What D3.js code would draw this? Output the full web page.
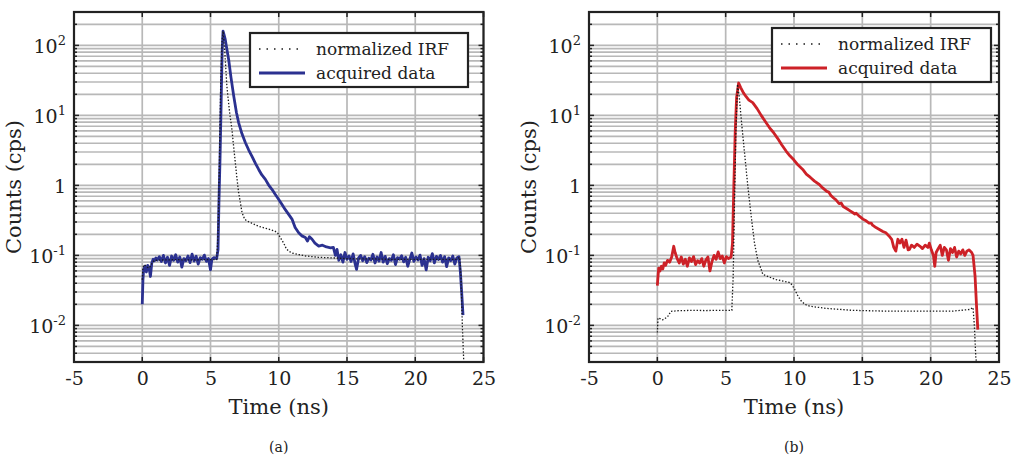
<!DOCTYPE html>
<html>
<head>
<meta charset="utf-8">
<script src="https://cdn.jsdelivr.net/npm/d3@7"></script>
<style>
  body { margin: 0; background: #fff; }
  svg { display: block; }
</style>
</head>
<body>
<svg id="mySVG" width="1012" height="457"></svg>
<script>
// ---- data (time in ns, counts in cps) ----
var xTicks = [-5, 0, 5, 10, 15, 20, 25]
var yTicks = [0.01, 0.1, 1, 10, 100]
var legendLabels = ["normalized IRF", "acquired data"]
var panelLabels = ["(a)", "(b)"]

var irfA = [
  [0.00, 0.045], [0.05, 0.068], [0.15, 0.074], [0.30, 0.070], [0.45, 0.066], [0.60, 0.070],
  [0.75, 0.080], [0.90, 0.085], [1.5, 0.086], [2.5, 0.087], [3.5, 0.086], [4.5, 0.087],
  [5.45, 0.087], [5.55, 0.2], [5.65, 2], [5.75, 30], [5.85, 120], [5.92, 160], [6.05, 80],
  [6.20, 26], [6.40, 11], [6.57, 6.3], [6.70, 3.5], [6.82, 2.1], [6.95, 1.2], [7.06, 0.79],
  [7.20, 0.55], [7.31, 0.41], [7.50, 0.33], [7.67, 0.31], [8.00, 0.29], [8.53, 0.26],
  [9.00, 0.245], [9.50, 0.23], [9.75, 0.22], [9.95, 0.205], [10.15, 0.175], [10.36, 0.15],
  [10.55, 0.125], [10.73, 0.115], [11.00, 0.108], [11.46, 0.103], [12.00, 0.098], [12.90, 0.094],
  [14.0, 0.092], [15.0, 0.090], [16.0, 0.089], [17.0, 0.089], [18.0, 0.088], [19.0, 0.088],
  [20.0, 0.088], [21.0, 0.088], [22.0, 0.088], [23.0, 0.088], [23.25, 0.094], [23.35, 0.05],
  [23.45, 0.01], [23.56, 0.0028]
]

var dataA = [
  [0.00, 0.020], [0.05, 0.045], [0.10, 0.062], [0.20, 0.070], [0.30, 0.058], [0.40, 0.072],
  [0.50, 0.066], [0.60, 0.050], [0.70, 0.078], [0.80, 0.088], [0.90, 0.084], [1.00, 0.092],
  [1.10, 0.086], [1.25, 0.096], [1.40, 0.082], [1.55, 0.100], [1.70, 0.078], [1.85, 0.094],
  [2.00, 0.072], [2.15, 0.098], [2.30, 0.085], [2.45, 0.102], [2.60, 0.080], [2.75, 0.095],
  [2.90, 0.068], [3.05, 0.090], [3.20, 0.084], [3.35, 0.098], [3.50, 0.079], [3.65, 0.104],
  [3.80, 0.083], [3.95, 0.097], [4.10, 0.075], [4.25, 0.093], [4.40, 0.088], [4.55, 0.101],
  [4.70, 0.082], [4.85, 0.090], [5.00, 0.062], [5.10, 0.088], [5.25, 0.093], [5.45, 0.090],
  [5.55, 0.12], [5.62, 0.6], [5.70, 2.5], [5.78, 15], [5.85, 80], [5.92, 160], [6.00, 140],
  [6.08, 122], [6.20, 88], [6.33, 63], [6.50, 35], [6.70, 19], [6.90, 11], [7.06, 7.9],
  [7.30, 5.5], [7.55, 4.1], [7.80, 3.2], [8.04, 2.6], [8.30, 2.05], [8.53, 1.69], [8.75, 1.42],
  [9.02, 1.22], [9.25, 1.02], [9.50, 0.88], [9.75, 0.74], [10.00, 0.63], [10.25, 0.53],
  [10.48, 0.45], [10.75, 0.38], [10.97, 0.33], [11.20, 0.25], [11.46, 0.21], [11.70, 0.19],
  [11.95, 0.18], [12.10, 0.16], [12.25, 0.185], [12.44, 0.17], [12.65, 0.15], [12.93, 0.136],
  [13.20, 0.14], [13.50, 0.132], [13.80, 0.128], [14.00, 0.13], [14.15, 0.100], [14.27, 0.122],
  [14.40, 0.085], [14.55, 0.102], [14.70, 0.080], [14.85, 0.110], [15.00, 0.088], [15.15, 0.098],
  [15.30, 0.082], [15.45, 0.105], [15.60, 0.075], [15.70, 0.063], [15.85, 0.092], [16.00, 0.100],
  [16.15, 0.084], [16.30, 0.096], [16.45, 0.079], [16.60, 0.091], [16.75, 0.086], [16.90, 0.104],
  [17.05, 0.078], [17.20, 0.095], [17.35, 0.083], [17.50, 0.110], [17.65, 0.080], [17.80, 0.097],
  [17.95, 0.076], [18.10, 0.090], [18.25, 0.085], [18.40, 0.102], [18.55, 0.074], [18.70, 0.093],
  [18.85, 0.088], [19.00, 0.099], [19.15, 0.081], [19.30, 0.094], [19.45, 0.070], [19.60, 0.088],
  [19.75, 0.108], [19.90, 0.082], [20.05, 0.095], [20.20, 0.086], [20.35, 0.101], [20.50, 0.072],
  [20.65, 0.090], [20.80, 0.062], [20.95, 0.094], [21.10, 0.084], [21.25, 0.106], [21.40, 0.078],
  [21.55, 0.097], [21.70, 0.087], [21.85, 0.100], [22.00, 0.080], [22.15, 0.096], [22.30, 0.069],
  [22.45, 0.092], [22.60, 0.084], [22.75, 0.098], [22.90, 0.075], [23.05, 0.092], [23.20, 0.096],
  [23.30, 0.06], [23.40, 0.03], [23.50, 0.014]
]

var irfB = [
  [0.00, 0.0079], [0.05, 0.0128], [0.20, 0.0125], [0.39, 0.012], [0.55, 0.0125], [0.75, 0.0133],
  [1.00, 0.0159], [1.5, 0.0162], [2.5, 0.0164], [3.5, 0.0163], [4.5, 0.0164], [5.45, 0.0164],
  [5.55, 0.05], [5.65, 0.6], [5.75, 6], [5.87, 27.7], [6.00, 18], [6.14, 8.8], [6.38, 2.93],
  [6.62, 0.98], [6.87, 0.36], [7.11, 0.15], [7.35, 0.085], [7.60, 0.063], [7.72, 0.0537],
  [8.20, 0.049], [8.70, 0.045], [9.20, 0.043], [9.68, 0.041], [9.85, 0.038], [10.04, 0.033],
  [10.30, 0.026], [10.53, 0.0223], [10.80, 0.020], [11.14, 0.0188], [12.37, 0.0175],
  [14.3, 0.0164], [16.7, 0.0160], [19.0, 0.0160], [21.6, 0.0160], [22.87, 0.0169], [23.10, 0.018],
  [23.20, 0.0098], [23.30, 0.0036], [23.36, 0.0028]
]

var dataB = [
  [0.00, 0.037], [0.05, 0.050], [0.10, 0.066], [0.20, 0.060], [0.30, 0.070], [0.40, 0.064],
  [0.50, 0.078], [0.60, 0.072], [0.75, 0.085], [0.90, 0.080], [1.05, 0.095], [1.20, 0.135],
  [1.30, 0.110], [1.45, 0.090], [1.60, 0.078], [1.75, 0.095], [1.90, 0.075], [2.05, 0.088],
  [2.20, 0.070], [2.35, 0.092], [2.50, 0.082], [2.65, 0.096], [2.80, 0.074], [2.95, 0.084],
  [3.10, 0.078], [3.25, 0.090], [3.40, 0.070], [3.55, 0.086], [3.70, 0.095], [3.85, 0.060],
  [4.00, 0.082], [4.15, 0.100], [4.30, 0.088], [4.45, 0.112], [4.60, 0.090], [4.75, 0.098],
  [4.90, 0.078], [5.05, 0.096], [5.20, 0.090], [5.40, 0.095], [5.50, 0.15], [5.60, 1.0],
  [5.70, 6], [5.80, 18], [5.95, 29], [6.10, 25], [6.30, 21], [6.50, 18.5], [6.70, 16.5],
  [6.98, 15.2], [7.30, 12.5], [7.60, 10.0], [7.90, 8.2], [8.20, 6.7], [8.50, 5.7], [8.80, 4.7],
  [9.10, 3.8], [9.42, 3.1], [9.70, 2.65], [10.00, 2.3], [10.30, 1.95], [10.64, 1.69],
  [10.90, 1.45], [11.20, 1.3], [11.50, 1.15], [11.85, 1.03], [12.10, 0.92], [12.40, 0.82],
  [12.55, 0.80], [12.70, 0.72], [12.90, 0.66], [13.07, 0.62], [13.30, 0.55], [13.45, 0.56],
  [13.60, 0.50], [13.90, 0.46], [14.05, 0.44], [14.29, 0.41], [14.45, 0.39], [14.55, 0.40],
  [14.80, 0.36], [15.05, 0.33], [15.30, 0.31], [15.50, 0.29], [15.65, 0.29], [15.75, 0.27],
  [16.00, 0.25], [16.25, 0.235], [16.50, 0.22], [16.72, 0.21], [16.95, 0.19], [17.15, 0.17],
  [17.30, 0.13], [17.45, 0.115], [17.60, 0.17], [17.75, 0.15], [17.90, 0.17], [18.05, 0.13],
  [18.20, 0.165], [18.35, 0.12], [18.45, 0.122], [18.60, 0.14], [18.80, 0.13], [19.00, 0.145],
  [19.20, 0.136], [19.40, 0.125], [19.60, 0.14], [19.80, 0.13], [19.90, 0.15], [20.05, 0.12],
  [20.20, 0.10], [20.30, 0.07], [20.40, 0.11], [20.55, 0.125], [20.70, 0.14], [20.85, 0.10],
  [21.00, 0.13], [21.15, 0.12], [21.30, 0.085], [21.45, 0.125], [21.60, 0.11], [21.75, 0.13],
  [21.90, 0.095], [22.05, 0.115], [22.20, 0.105], [22.35, 0.12], [22.50, 0.10], [22.65, 0.115],
  [22.80, 0.12], [23.00, 0.11], [23.10, 0.10], [23.25, 0.05], [23.35, 0.02], [23.45, 0.0087]
]

var FONT = "DejaVu Serif, serif"
var MySVG = d3.select("#mySVG")

//---one framed log-scale panel---
function drawPanel(opt)
{
    var left = opt.left, right = opt.right, top = 12, bottom = 362
    var x = d3.scaleLinear().domain([-5, 25]).range([left, right])
    var y = d3.scaleLog().domain([0.003, 300]).range([bottom, top])

    var g = MySVG.append("g").attr("id", opt.id)

    g.append("clipPath").attr("id", opt.id + "Clip")
    .append("rect")
    .attr("x", left).attr("y", top)
    .attr("width", right - left).attr("height", bottom - top)

    //---grid: every decade plus minors---
    var minors = []
    for (var e = -3; e <= 2; e++)
        for (var m = 1; m <= 9; m++) {
            var v = m * Math.pow(10, e)
            if (v > 0.003 && v < 300) minors.push(v)
        }
    var grid = g.append("g")
    .attr("stroke", "#b8b8b8")
    .attr("stroke-width", 1.7)
    grid.selectAll(".hg").data(minors).enter().append("line")
    .attr("x1", left).attr("x2", right)
    .attr("y1", d => y(d)).attr("y2", d => y(d))
    grid.selectAll(".vg").data(xTicks).enter().append("line")
    .attr("x1", d => x(d)).attr("x2", d => x(d))
    .attr("y1", top).attr("y2", bottom)

    //---series---
    var line = d3.line().x(d => x(d[0])).y(d => y(d[1]))
    var lines = g.append("g").attr("clip-path", "url(#" + opt.id + "Clip)")
    lines.append("path")
    .attr("d", line(opt.data))
    .attr("fill", "none")
    .attr("stroke", opt.color)
    .attr("stroke-width", 2.8)
    .attr("stroke-linejoin", "round")
    lines.append("path")
    .attr("d", line(opt.irf))
    .attr("fill", "none")
    .attr("stroke", "#1a1a1a")
    .attr("stroke-width", 1.3)
    .attr("stroke-dasharray", "1.4,1.8")

    //---inward tick marks on all sides---
    var tk = g.append("g").attr("stroke", "#222").attr("stroke-width", 1.5)
    xTicks.forEach(function (t) {
        tk.append("line").attr("x1", x(t)).attr("x2", x(t)).attr("y1", bottom).attr("y2", bottom - 5)
        tk.append("line").attr("x1", x(t)).attr("x2", x(t)).attr("y1", top).attr("y2", top + 5)
    })
    minors.forEach(function (v) {
        var len = yTicks.indexOf(v) >= 0 ? 5 : 3
        tk.append("line").attr("x1", left).attr("x2", left + len).attr("y1", y(v)).attr("y2", y(v))
        tk.append("line").attr("x1", right).attr("x2", right - len).attr("y1", y(v)).attr("y2", y(v))
    })

    //---frame---
    g.append("rect")
    .attr("x", left).attr("y", top)
    .attr("width", right - left).attr("height", bottom - top)
    .attr("fill", "none")
    .attr("stroke", "#222")
    .attr("stroke-width", 2.2)

    //---x axis labels---
    var xAxis = g.append("g")
    .attr("transform", "translate(0," + bottom + ")")
    .call(d3.axisBottom(x).tickValues(xTicks).tickSize(0).tickPadding(10).tickFormat(d => String(d)))
    xAxis.select(".domain").remove()
    xAxis.selectAll("text")
    .attr("font-family", FONT).attr("font-size", 19).attr("fill", "#222")

    //---y axis labels with superscripts---
    var yAxis = g.append("g")
    .attr("transform", "translate(" + (left - 8) + ",0)")
    .call(d3.axisLeft(y).tickValues(yTicks).tickSize(0).tickPadding(0).tickFormat(""))
    yAxis.select(".domain").remove()
    yAxis.selectAll(".tick text").each(function (d) {
        var t = d3.select(this)
        .attr("font-family", FONT).attr("font-size", 19).attr("fill", "#222")
        .attr("dy", "0.35em")
        var ex = Math.round(Math.log10(d))
        if (ex === 0) { t.text("1"); return }
        t.append("tspan").text("10")
        t.append("tspan").text(String(ex)).attr("font-size", 13).attr("dy", "-0.55em")
    })

    //---axis titles---
    g.append("text")
    .attr("x", (left + right) / 2).attr("y", 414)
    .attr("text-anchor", "middle")
    .attr("font-family", FONT).attr("font-size", 21).attr("fill", "#222")
    .text("Time (ns)")
    g.append("text")
    .attr("transform", "translate(" + (left - 53) + "," + ((top + bottom) / 2) + ") rotate(-90)")
    .attr("text-anchor", "middle")
    .attr("font-family", FONT).attr("font-size", 21).attr("fill", "#222")
    .text("Counts (cps)")
    g.append("text")
    .attr("x", (left + right) / 2).attr("y", 452)
    .attr("text-anchor", "middle")
    .attr("font-family", FONT).attr("font-size", 14).attr("fill", "#222")
    .text(opt.panel)

    //---legend---
    var lg = g.append("g").attr("transform", "translate(" + opt.legX + "," + opt.legY + ")")
    lg.append("rect")
    .attr("width", opt.legW).attr("height", 54)
    .attr("fill", "#fff").attr("stroke", "#222").attr("stroke-width", 2.2)
    lg.append("line")
    .attr("x1", 9).attr("x2", 52).attr("y1", 16).attr("y2", 16)
    .attr("stroke", "#1a1a1a").attr("stroke-width", 1.5).attr("stroke-dasharray", "1.5,6")
    lg.append("line")
    .attr("x1", 9).attr("x2", 55).attr("y1", 40).attr("y2", 40)
    .attr("stroke", opt.color).attr("stroke-width", 2.8)
    lg.selectAll(".lt").data(legendLabels).enter().append("text")
    .attr("x", 66).attr("y", (d, i) => 22 + i * 24)
    .attr("font-family", FONT).attr("font-size", 17).attr("fill", "#222")
    .text(d => d)
}

drawPanel({ id: "panelA", left: 74, right: 483.5, data: dataA, irf: irfA,
    color: "#2b3190", panel: panelLabels[0], legX: 250, legY: 33, legW: 218 })
drawPanel({ id: "panelB", left: 589, right: 999, data: dataB, irf: irfB,
    color: "#cd2127", panel: panelLabels[1], legX: 772, legY: 28, legW: 219 })
</script>
</body>
</html>
